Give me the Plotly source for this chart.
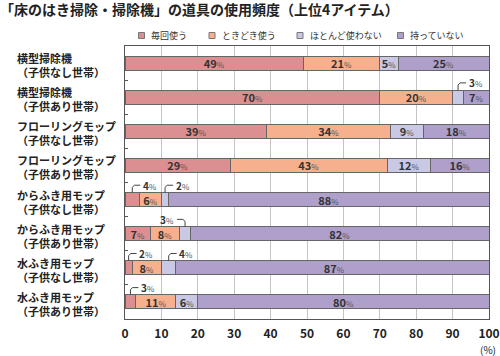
import plotly.graph_objects as go

# ---- data ----
items = ["横型掃除機", "横型掃除機", "フローリングモップ", "フローリングモップ",
         "からふき用モップ", "からふき用モップ", "水ふき用モップ", "水ふき用モップ"]
households = ["（子供なし世帯）", "（子供あり世帯）", "（子供なし世帯）", "（子供あり世帯）",
              "（子供なし世帯）", "（子供あり世帯）", "（子供なし世帯）", "（子供あり世帯）"]
series_names = ["毎回使う", "ときどき使う", "ほとんど使わない", "持っていない"]
every_time = [49, 70, 39, 29, 4, 7, 2, 3]
sometimes = [21, 20, 34, 43, 6, 8, 8, 11]
rarely = [5, 3, 9, 12, 2, 3, 4, 6]
not_owned = [25, 7, 18, 16, 88, 82, 87, 80]
x_ticks = [0, 10, 20, 30, 40, 50, 60, 70, 80, 90, 100]
title = "「床のはき掃除・掃除機」の道具の使用頻度（上位4アイテム）"

series_values = [every_time, sometimes, rarely, not_owned]
colors = ["#DB8F90", "#F6B08E", "#C9C9E5", "#AE9FCB"]
left_callouts = {(5, 2)}  # (row, series) whose small label sits on the left

FONT = "Noto Sans CJK JP, Noto Sans, sans-serif"
W, H = 500, 356
ML, MR, MT, MB = 125, 11, 46, 37
PW, PH = W - ML - MR, H - MT - MB
ypos = list(range(len(items)))
BAR_W = 0.41


def px_x(px):
    return (px - ML) / PW


def px_y(py):
    return (H - MB - py) / PH


def pct(v, pct_size=8):
    return f"<b>{v}</b><span style='font-size:{pct_size}px;color:#555'>%</span>"


fig = go.Figure()
for name, vals, col in zip(series_names, series_values, colors):
    fig.add_trace(go.Bar(
        x=vals, y=ypos, orientation="h", name=name, width=BAR_W,
        marker=dict(color=col, line=dict(color="#666666", width=1)),
        text=[pct(v) if v >= 5 else "" for v in vals],
        textposition="inside", insidetextanchor="middle", textangle=0,
        textfont=dict(family=FONT, size=11, color="#333333"),
        showlegend=False,
    ))

shapes = []
annotations = []

# callouts for small values
for i in ypos:
    start = 0
    for s, vals in enumerate(series_values):
        v = vals[i]
        if v < 5:
            xc = start + v / 2
            ytop = i - BAR_W / 2
            ylab = i - 0.42
            sgn = -1 if (i, s) in left_callouts else 1
            shapes.append(dict(
                type="path", xref="x", yref="y",
                path=f"M {xc},{ytop} L {xc},{ylab + 0.06} L {xc + sgn * 0.6},{ylab} L {xc + sgn * 2.2},{ylab}",
                line=dict(color="#444", width=1),
            ))
            annotations.append(dict(
                x=xc + sgn * 2.4, y=ylab, xref="x", yref="y",
                xanchor="left" if sgn > 0 else "right", yanchor="middle",
                text=pct(v), showarrow=False,
                font=dict(family=FONT, size=10, color="#333"),
            ))
        start += v

# legend (key) drawn as small squares + labels
legend_marker_px = [141.5, 212, 300, 400.5]
legend_y_px = 35.5
for name, col, mx in zip(series_names, colors, legend_marker_px):
    shapes.append(dict(
        type="rect", xref="paper", yref="paper",
        x0=px_x(mx - 3), x1=px_x(mx + 3), y0=px_y(legend_y_px + 3), y1=px_y(legend_y_px - 3),
        fillcolor=col, line=dict(color="#777", width=1),
    ))
    annotations.append(dict(
        x=px_x(mx + 7.5), y=px_y(legend_y_px), xref="paper", yref="paper",
        xanchor="left", yanchor="middle", text=name, showarrow=False,
        font=dict(family=FONT, size=9, color="#333"),
    ))

# category labels
for i, (it, hh) in enumerate(zip(items, households)):
    annotations.append(dict(
        x=px_x(15), y=i, xref="paper", yref="y", xanchor="left", yanchor="middle",
        align="left", text=f"<b>{it}</b><br><b>{hh}</b>", showarrow=False, yshift=-2,
        font=dict(family=FONT, size=11, color="#222"),
    ))

annotations.append(dict(
    x=px_x(498), y=px_y(349), xref="paper", yref="paper", xanchor="right", yanchor="middle",
    text="(%)", showarrow=False, font=dict(family=FONT, size=10, color="#222"),
))

fig.update_layout(
    width=W, height=H,
    margin=dict(l=ML, r=MR, t=MT, b=MB, autoexpand=False),
    paper_bgcolor="white", plot_bgcolor="white",
    barmode="stack", showlegend=False,
    title=dict(text=f"<b>{title}</b>", x=0, xref="container", xanchor="left",
               y=1 - 10.5 / H, yref="container", yanchor="middle",
               font=dict(family=FONT, size=14, color="#222")),
    xaxis=dict(range=[0, 100], tickvals=x_ticks, showgrid=True, gridcolor="#c4c4c4",
               gridwidth=1, showline=True, linecolor="#555", mirror=True, zeroline=False,
               ticks="", tickfont=dict(family=FONT, size=12, color="#222", weight="bold"),
               ticklabelstandoff=4, automargin=False, fixedrange=True),
    yaxis=dict(range=[len(items) - 0.5, -0.5], tickvals=[k + 0.5 for k in ypos[:-1]],
               showticklabels=False, ticks="inside", ticklen=3, tickcolor="#555",
               showgrid=False, showline=True, linecolor="#555", mirror=True,
               zeroline=False, automargin=False, fixedrange=True),
    shapes=shapes, annotations=annotations,
    uniformtext=dict(minsize=11, mode="show"),
)

fig.write_html("out.html", config={"displayModeBar": False},
               post_script="document.body.style.margin='0';")
